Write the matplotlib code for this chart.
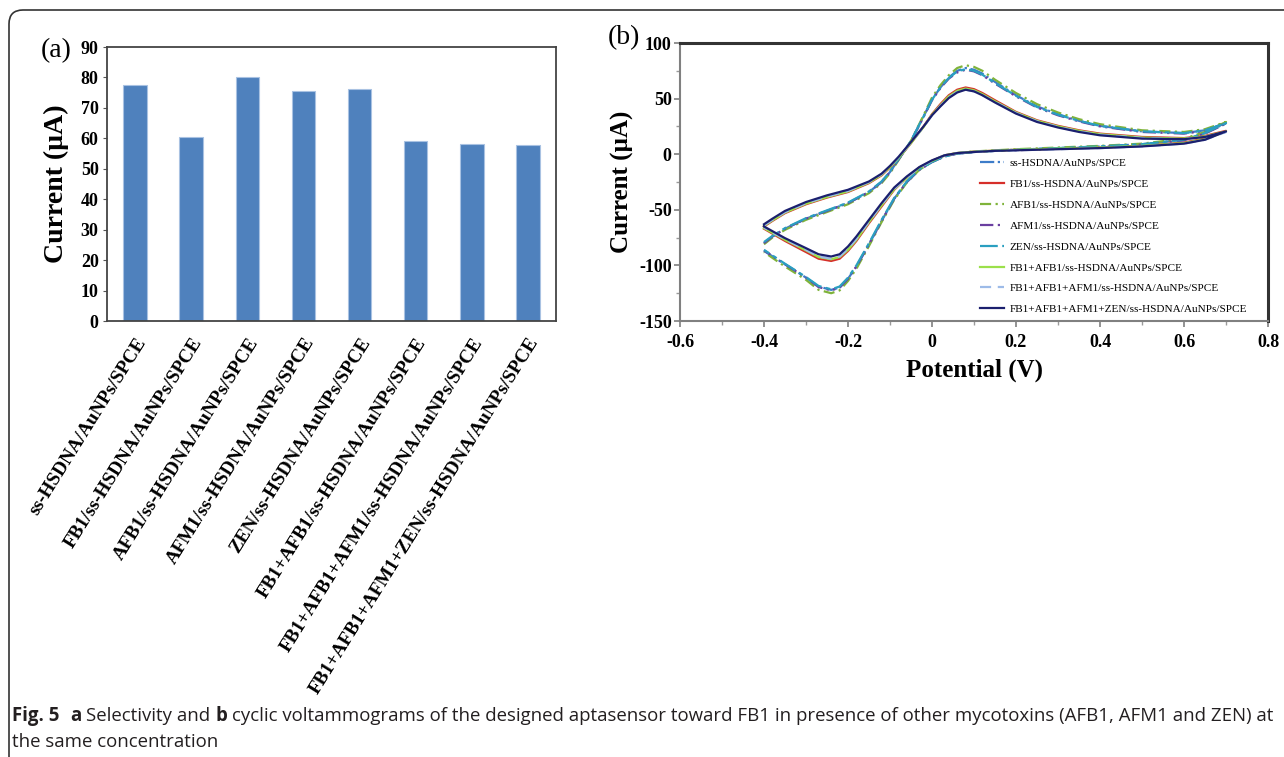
import numpy as np
import matplotlib
matplotlib.use('agg')
import matplotlib.pyplot as plt
from matplotlib.patches import FancyBboxPatch
from matplotlib.ticker import MultipleLocator
from matplotlib.transforms import IdentityTransform

plt.rcParams['font.family'] = ['Liberation Serif', 'DejaVu Serif']

# ---- panel (a): selectivity bars ----
electrodes = ["ss-HSDNA/AuNPs/SPCE",
              "FB1/ss-HSDNA/AuNPs/SPCE",
              "AFB1/ss-HSDNA/AuNPs/SPCE",
              "AFM1/ss-HSDNA/AuNPs/SPCE",
              "ZEN/ss-HSDNA/AuNPs/SPCE",
              "FB1+AFB1/ss-HSDNA/AuNPs/SPCE",
              "FB1+AFB1+AFM1/ss-HSDNA/AuNPs/SPCE",
              "FB1+AFB1+AFM1+ZEN/ss-HSDNA/AuNPs/SPCE"]
peak_current = [77.6, 60.5, 80.3, 75.5, 76.1, 59.1, 58.0, 57.8]

# ---- panel (b): cyclic voltammograms ----
E_fwd = [-0.40, -0.38, -0.35, -0.30, -0.25, -0.20, -0.15, -0.12, -0.10, -0.08,
         -0.05, -0.02, 0.00, 0.02, 0.04, 0.06, 0.08, 0.10, 0.12, 0.15,
         0.20, 0.25, 0.30, 0.35, 0.40, 0.50, 0.60, 0.65, 0.70]
E_rev = [0.70, 0.65, 0.60, 0.50, 0.40, 0.30, 0.20, 0.15, 0.10, 0.06,
         0.03, 0.00, -0.03, -0.06, -0.09, -0.12, -0.15, -0.18, -0.20, -0.22,
         -0.24, -0.27, -0.30, -0.35, -0.40]

i_ss_fwd = [-80, -74, -67, -58, -51, -44, -34, -25, -16, -5, 12, 34, 49, 60, 69, 75, 77.5, 76, 72.5, 65,
            53, 43, 36, 30, 25.5, 20.5, 19, 21.5, 28]
i_ss_rev = [28, 19, 13, 9, 7, 5.5, 4, 3, 2, 0.5, -2, -7, -14, -25, -40, -60, -81, -101, -112, -120,
            -122, -119, -111, -99, -87]
i_fb1_fwd = [-65, -60, -53, -45, -39, -34, -26, -19, -12, -4, 10, 25, 36, 45, 53, 58, 60, 58.5, 55, 48.5,
             38, 30.5, 25.5, 21.5, 18.5, 15.5, 14.5, 16.5, 21]
i_fb1_rev = [21, 14, 10.5, 7.5, 6, 5, 4, 3.2, 2.3, 1, -1, -6, -12, -21, -32, -47, -62, -78, -87, -94,
             -96, -94, -88, -78, -67]
i_afb1_fwd = [-81, -75, -68, -59, -52, -45, -35, -26, -17, -5.5, 12, 35, 51, 62, 71, 77.5, 80, 78.5, 75, 67,
              55, 45, 37.5, 31.5, 27, 21.5, 20, 22.5, 29]
i_afb1_rev = [29, 20, 14, 9.5, 7.5, 6, 4.5, 3.5, 2.5, 1, -1.5, -7, -14, -25.5, -41, -61, -82.5, -103, -114, -122.5,
              -125, -122, -113, -101, -88]
i_afm1_fwd = [-80, -74, -67, -58, -51, -44, -34, -25, -16, -5, 11.5, 33.5, 48.5, 59.5, 68, 73.5, 76, 74.5, 71, 63.5,
              52, 42, 35, 29.5, 25, 20, 18.5, 21, 27.5]
i_afm1_rev = [27.5, 18.5, 12.5, 8.5, 6.5, 5, 3.5, 3, 2, 0.5, -2, -7, -14, -25, -40, -60, -81, -101, -112, -120,
              -122.5, -119.5, -111, -99, -86.5]
i_zen_fwd = [-79, -73.5, -66.5, -57.5, -50.5, -43.5, -33.5, -24.5, -15.5, -4.5, 12, 34, 49, 60, 68.5, 74.5, 76.5, 75, 71.5, 64,
             52.5, 42.5, 35.5, 30, 25.5, 20.5, 19, 21.5, 28]
i_zen_rev = [28, 19, 13, 9, 7, 5.5, 4, 3, 2, 0.5, -2, -7, -13.5, -24.5, -39.5, -59, -80, -100, -111, -119,
             -121.5, -118.5, -110.5, -98.5, -86]
i_mix2_fwd = [-64.5, -59.5, -52.5, -44.5, -38.5, -33.5, -25.5, -18.5, -11.5, -3.5, 10, 24.5, 35.5, 44, 52, 57, 59, 57.5, 54, 47.5,
              37.5, 30, 25, 21, 18, 15, 14, 16, 20.5]
i_mix2_rev = [20.5, 13.5, 10, 7.5, 6, 5, 4, 3.2, 2.3, 1, -1, -6, -12, -21, -31.5, -46, -61, -77, -86, -92.5,
              -94.5, -92.5, -86.5, -77, -66.5]
i_mix3_fwd = [-64, -59, -52, -44, -38, -33, -25, -18, -11, -3, 10.5, 24.5, 35, 43.5, 51, 56, 58, 56.5, 53, 47,
              37, 29.5, 24.5, 20.5, 17.5, 14.5, 13.5, 15.5, 20]
i_mix3_rev = [20, 13, 9.5, 7, 5.5, 4.5, 3.5, 3, 2, 1, -1, -6, -12, -21, -31, -45.5, -60.5, -76, -85, -92,
              -94, -92, -86, -76.5, -66]
i_mix4_fwd = [-63, -58, -51, -43, -37, -32, -24.5, -17.5, -10.5, -2.5, 11, 25, 35, 43, 50.5, 55.5, 58, 56.5, 53, 46.5,
              36.5, 29, 24, 20, 17, 14, 13.5, 15.5, 20.5]
i_mix4_rev = [20.5, 13, 9.5, 7, 5.5, 4.5, 3.5, 3, 2, 1, -1, -5.5, -11.5, -20, -30, -44, -59, -74, -83, -90,
              -92, -90, -84.5, -75.5, -65]

cv_fwd = [i_ss_fwd, i_fb1_fwd, i_afb1_fwd, i_afm1_fwd, i_zen_fwd, i_mix2_fwd, i_mix3_fwd, i_mix4_fwd]
cv_rev = [i_ss_rev, i_fb1_rev, i_afb1_rev, i_afm1_rev, i_zen_rev, i_mix2_rev, i_mix3_rev, i_mix4_rev]
cv_colors = ['#3d7cc9', '#d62f2a', '#7fb33a', '#6a3fa0', '#2a9fc0', '#9be04a', '#9dbbe8', '#1b1f6e']
cv_styles = ['-.', '-', (0, (5, 2, 1, 2)), (0, (6, 2, 1, 2, 1, 2)), (0, (8, 2, 2, 2)), '-', (0, (5, 3)), '-']

xtick_vals = [-0.6, -0.4, -0.2, 0, 0.2, 0.4, 0.6, 0.8]
xtick_text = ['-0.6', '-0.4', '-0.2', '0', '0.2', '0.4', '0.6', '0.8']
ytick_vals = [100, 50, 0, -50, -100, -150]
ytick_text = ['100', '50', '0', '-50', '-100', '-150']

W, H = 1284, 757
fig = plt.figure(figsize=(W / 100, H / 100), dpi=100)


def box(l, t, r, b):
    return [l / W, 1 - b / H, (r - l) / W, (b - t) / H]


# outer frame
frame = FancyBboxPatch((9, -40), 1400, H - 10 + 40, boxstyle='round,pad=0,rounding_size=14',
                       transform=IdentityTransform(), fill=False, ec='#333333', lw=1.2)
fig.add_artist(frame)

# ---------------- (a) ----------------
ax1 = fig.add_axes(box(107, 47, 556, 321))
x = np.arange(len(electrodes))
ax1.bar(x, peak_current, width=0.42, color='#4F81BD', edgecolor='#a9c2e2', linewidth=0.8)
ax1.set_xlim(-0.5, 7.5)
ax1.set_ylim(0, 90)
ax1.set_yticks(np.arange(0, 91, 10))
ax1.set_xticks(x)
ax1.set_xticklabels(electrodes, rotation=58, ha='right', va='top', rotation_mode='anchor',
                    fontsize=13.8, fontweight='bold')
ax1.tick_params(axis='x', length=0, pad=10)
ax1.tick_params(axis='y', length=3, labelsize=13, color='#555555', pad=3)
for lbl in ax1.get_yticklabels():
    lbl.set_fontweight('bold')
ax1.set_ylabel('Current (µA)', fontsize=20, fontweight='bold')
ax1.yaxis.set_label_coords(-0.085, 0.5)
for s in ax1.spines.values():
    s.set_color('#444444')
    s.set_linewidth(1.3)
fig.text(41 / W, 1 - 51 / H, '(a)', fontsize=20, va='center', ha='left')

# ---------------- (b) ----------------
ax2 = fig.add_axes(box(680, 43, 1268, 321))
for k in range(len(electrodes)):
    ax2.plot(E_fwd + E_rev, cv_fwd[k] + cv_rev[k], color=cv_colors[k], linestyle=cv_styles[k],
             lw=1.6, label=electrodes[k])
ax2.set_xlim(-0.6, 0.8)
ax2.set_ylim(-150, 100)
ax2.set_xticks(xtick_vals)
ax2.set_xticklabels(xtick_text, fontsize=13, fontweight='bold')
ax2.set_yticks(ytick_vals)
ax2.set_yticklabels(ytick_text, fontsize=13, fontweight='bold')
ax2.xaxis.set_minor_locator(MultipleLocator(0.1))
ax2.yaxis.set_minor_locator(MultipleLocator(25))
ax2.tick_params(which='major', direction='out', length=4, color='#7f7f7f', width=1.2)
ax2.tick_params(which='minor', direction='out', length=3, color='#9a9a9a', width=1.0)
ax2.tick_params(axis='x', pad=5)
ax2.tick_params(axis='y', pad=2)
ax2.spines['left'].set_color('#808080')
ax2.spines['bottom'].set_color('#808080')
ax2.spines['left'].set_linewidth(1.5)
ax2.spines['bottom'].set_linewidth(1.5)
ax2.spines['top'].set_color('#333333')
ax2.spines['right'].set_color('#333333')
ax2.spines['top'].set_linewidth(2.2)
ax2.spines['right'].set_linewidth(2.2)
ax2.set_xlabel('Potential (V)', fontsize=18, fontweight='bold')
ax2.xaxis.set_label_coords(0.5, -0.135)
ax2.set_ylabel('Current (µA)', fontsize=18, fontweight='bold')
ax2.yaxis.set_label_coords(-0.078, 0.5)
ax2.legend(loc='upper left', bbox_to_anchor=(0.5, 0.606), frameon=False, borderpad=0,
           fontsize=8.1, handlelength=2.2, handletextpad=0.45, labelspacing=0.98)
fig.text(608 / W, 1 - 38 / H, '(b)', fontsize=20, va='center', ha='left')

# ---------------- caption ----------------
cap_family = ['Open Sans', 'DejaVu Sans']
cap_size = 13.4
renderer = fig.canvas.get_renderer()
gap = 0.26 * cap_size * 100 / 72


def caption_line(pieces, x0, ybase):
    xp = x0
    for txt, bold, extra in pieces:
        xp += extra * gap
        t = fig.text(xp / W, 1 - ybase / H, txt, fontsize=cap_size, family=cap_family,
                     fontweight='bold' if bold else 'normal', va='baseline', ha='left', color='#231f20')
        xp = t.get_window_extent(renderer).x1


caption_line([("Fig. 5", True, 0), ("a", True, 2.2), ("Selectivity and", False, 1),
              ("b", True, 1),
              ("cyclic voltammograms of the designed aptasensor toward FB1 in presence of other "
               "mycotoxins (AFB1, AFM1 and ZEN) at", False, 1)], 12, 721)
caption_line([("the same concentration", False, 0)], 12, 747)

fig.savefig('out.png', dpi=100)
